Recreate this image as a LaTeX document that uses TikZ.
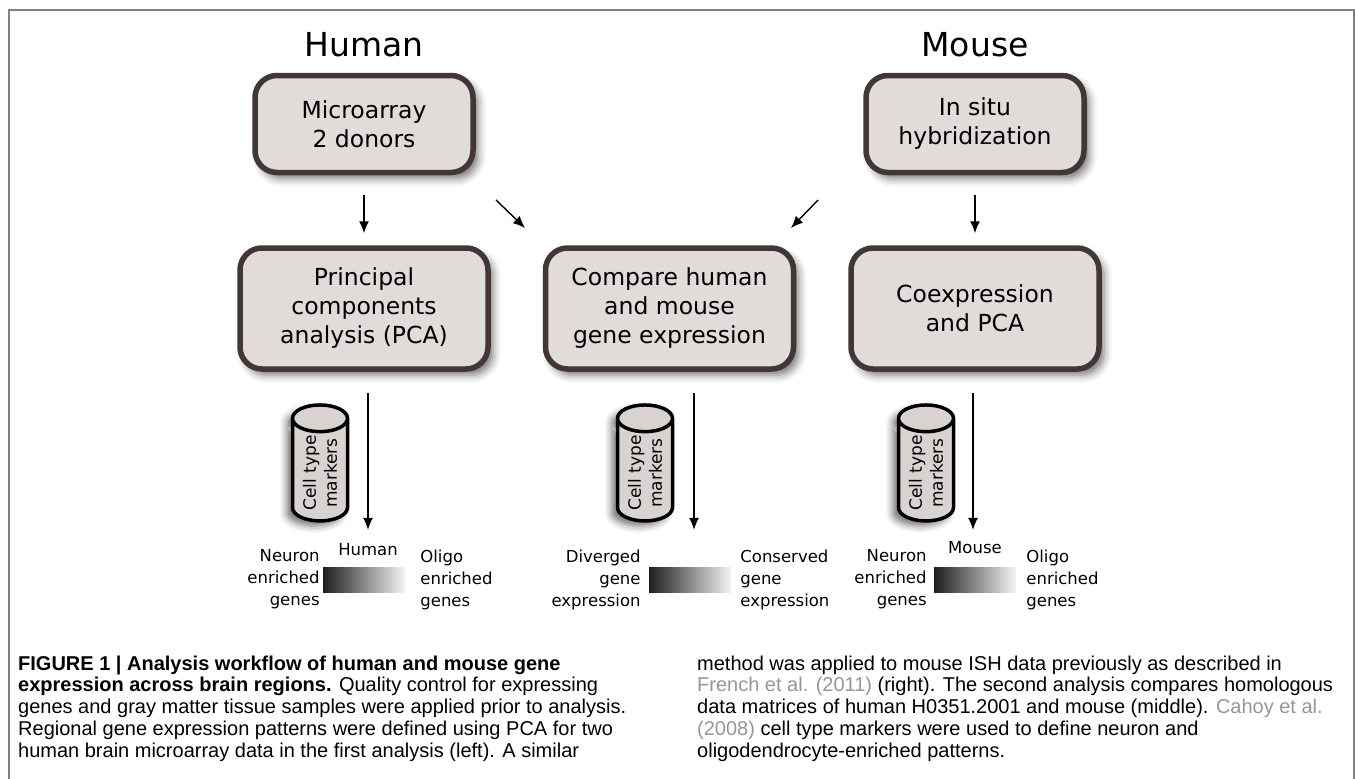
\documentclass[tikz,border=0pt]{standalone}
\usepackage{fontspec}
\newfontfamily\diafont{DejaVu Sans}
\newfontfamily\capfont{Liberation Sans}
\usepackage{tikz}
\usetikzlibrary{calc,shapes.geometric,arrows.meta,shadows.blur,positioning}

\definecolor{boxedge}{RGB}{66,54,54}
\definecolor{boxfill}{RGB}{225,219,218}
\definecolor{cylfill}{RGB}{216,210,209}
\definecolor{citegray}{RGB}{150,150,150}
\definecolor{framegray}{RGB}{128,128,128}
\definecolor{gradleft}{RGB}{30,30,30}
\definecolor{gradright}{RGB}{245,245,245}

\tikzset{
  procbox/.style={rectangle, rounded corners=22pt, draw=boxedge, line width=5.5pt,
    fill=boxfill, align=center, font=\diafont\fontsize{23.5}{29}\selectfont,
    blur shadow={shadow xshift=5pt, shadow yshift=-6pt, shadow blur radius=8pt, shadow opacity=55}},
  topbox/.style={procbox, minimum width=218pt, minimum height=97pt},
  lowbox/.style={procbox, minimum width=248pt, minimum height=121pt},
  dbcyl/.style={cylinder, rotate=90, aspect=0.7, draw=black, line width=3.5pt,
    fill=cylfill, minimum width=55pt, minimum height=95pt, inner sep=2pt,
    align=center, font=\diafont\fontsize{17}{21}\selectfont,
    blur shadow={shadow xshift=-6pt, shadow yshift=-5pt, shadow blur radius=7pt, shadow opacity=55}},
  gradbar/.style={rectangle, minimum width=82pt, minimum height=25pt, inner sep=0pt,
    left color=gradleft, right color=gradright},
  sidelbl/.style={inner sep=0pt, font=\diafont\fontsize{16.5}{22}\selectfont},
  titletext/.style={font=\diafont\fontsize{33}{40}\selectfont},
  flowarrow/.style={-{Latex[length=12pt,width=10pt]}, line width=1.4pt},
  captext/.style={anchor=base west, inner sep=0pt, font=\capfont\fontsize{20}{22}\selectfont}
}

\begin{document}
\begin{tikzpicture}[x=1pt,y=-1pt]
\useasboundingbox (0,0) rectangle (1355,779);
\draw[framegray, line width=2pt] (9,779) -- (9,10) -- (1354,10) -- (1354,779);

\node[titletext] (htitle) at (364,45) {Human};
\node[titletext] (mtitle) at (975,45) {Mouse};

\node[topbox] (micro) at (364,124) {Microarray\\2 donors};
\node[topbox] (insitu) at (975,124) {In situ\\hybridization};

\node[lowbox] (pca) at (364,308.5) {Principal\\components\\analysis (PCA)};
\node[lowbox] (cmp) at (669.5,308.5) {Compare human\\and mouse\\gene expression};
\node[lowbox] (coex) at (975,308.5) {Coexpression\\and PCA};

\draw[flowarrow, shorten <=20pt, shorten >=12pt] (micro) -- (pca);
\draw[flowarrow, shorten <=20pt, shorten >=12pt] (insitu) -- (coex);
\coordinate (hd0) at (496,200);
\coordinate (hd1) at (525,228);
\coordinate (md0) at (818,200);
\coordinate (md1) at (791,228);
\draw[flowarrow] (hd0) -- (hd1);
\draw[flowarrow] (md0) -- (md1);

\node[dbcyl] (hcyl) at (320,473) {Cell type\\markers};
\node[dbcyl] (ccyl) at (645,473) {Cell type\\markers};
\node[dbcyl] (mcyl) at (926,473) {Cell type\\markers};

\node[gradbar] (hgrad) at (364,579.5) {};
\node[gradbar] (cgrad) at (690,579.5) {};
\node[gradbar] (mgrad) at (975,579.5) {};

\node[sidelbl] (hlbl) at (368,550) {Human};
\node[sidelbl] (mlbl) at (975,548) {Mouse};
\node[sidelbl, align=right, left=3pt of hgrad] (hneu) {Neuron\\enriched\\genes};
\node[sidelbl, align=left, right=15pt of hgrad] (holi) {Oligo\\enriched\\genes};
\node[sidelbl, align=right, left=8pt of cgrad] (cdiv) {Diverged\\gene\\expression};
\node[sidelbl, align=left, right=9pt of cgrad] (ccon) {Conserved\\gene\\expression};
\node[sidelbl, align=right, left=7pt of mgrad] (mneu) {Neuron\\enriched\\genes};
\node[sidelbl, align=left, right=10pt of mgrad] (moli) {Oligo\\enriched\\genes};

\draw[flowarrow, line width=1.2pt] ($(pca.south)+(4,21)$) -- ($(hgrad.north)+(4,-37)$);
\draw[flowarrow, line width=1.2pt] ($(cmp.south)+(24.5,21)$) -- ($(cgrad.north)+(4,-37)$);
\draw[flowarrow, line width=1.2pt] ($(coex.south)+(-2,21)$) -- ($(mgrad.north)+(-2,-37)$);

\foreach \ln [count=\i] in {
  {\textbf{FIGURE 1 | Analysis workflow of human and mouse gene}},
  {\textbf{expression across brain regions.} Quality control for expressing},
  {genes and gray matter tissue samples were applied prior to analysis.},
  {Regional gene expression patterns were defined using PCA for two},
  {human brain microarray data in the first analysis (left). A similar}}
  \node[captext] (capl\i) at (18,{670+21.8*(\i-1)}) {\ln};
\foreach \ln [count=\i] in {
  {method was applied to mouse ISH data previously as described in},
  {\textcolor{citegray}{French et al. (2011)} (right). The second analysis compares homologous},
  {data matrices of human H0351.2001 and mouse (middle). \textcolor{citegray}{Cahoy et al.}},
  {\textcolor{citegray}{(2008)} cell type markers were used to define neuron and},
  {oligodendrocyte-enriched patterns.}}
  \node[captext] (capr\i) at (697,{670+21.8*(\i-1)}) {\ln};
\end{tikzpicture}
\end{document}
